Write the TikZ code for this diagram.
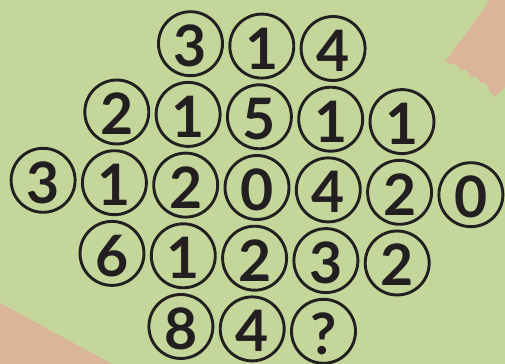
\documentclass[tikz,border=0pt]{standalone}
\usepackage{fontspec}
\setmainfont{Lato}
\usepackage{tikz}

\definecolor{leaf}{RGB}{197,214,154}
\definecolor{salmon}{RGB}{219,181,154}
\definecolor{ink}{RGB}{35,31,32}

\begin{document}
\begin{tikzpicture}[x=0.02cm,y=-0.02cm,
    ball/.style={circle,draw=ink,line width=0.058cm,minimum size=1.28cm,inner sep=0pt,
      text height=0.92cm,text depth=0cm,
      text=ink,font=\fontsize{32.5}{32.5}\selectfont\bfseries}]
  \useasboundingbox (0,0) rectangle (505,364);
  \fill[leaf] (0,0) rectangle (505,364);
  % torn paper corners
  \fill[salmon] (490,0) -- (505,0) -- (505,87) -- (495,97) -- (490,92) -- (486,83)
    -- (480,83) -- (477,77) -- (470,77) -- (466,69) -- (460,70) -- (457,65)
    -- (448,63) -- (445,62) -- cycle;
  \fill[salmon] (0,303) -- (112,364) -- (0,364) -- cycle;
  % rows of numbers
  \foreach \c/\d [count=\i] in {-1/3,0/1,1/4}
    \node[ball] (a\i) at ({257+71.3*\c+4.8},{187.5+2.4*\c-141.4}) {\d};
  \foreach \c/\d [count=\i] in {-2/2,-1/1,0/5,1/1,2/1}
    \node[ball] (b\i) at ({257+71.3*\c+2.4},{187.5+2.4*\c-70.7}) {\d};
  \foreach \c/\d [count=\i] in {-3/3,-2/1,-1/2,0/0,1/4,2/2,3/0}
    \node[ball] (c\i) at ({257+71.3*\c},{187.5+2.4*\c}) {\d};
  \foreach \c/\d [count=\i] in {-2/6,-1/1,0/2,1/3,2/2}
    \node[ball] (d\i) at ({257+71.3*\c-2.4},{187.5+2.4*\c+70.7}) {\d};
  \foreach \c/\d [count=\i] in {-1/8,0/4,1/?}
    \node[ball] (e\i) at ({257+71.3*\c-4.8},{187.5+2.4*\c+141.4}) {\d};
\end{tikzpicture}
\end{document}
